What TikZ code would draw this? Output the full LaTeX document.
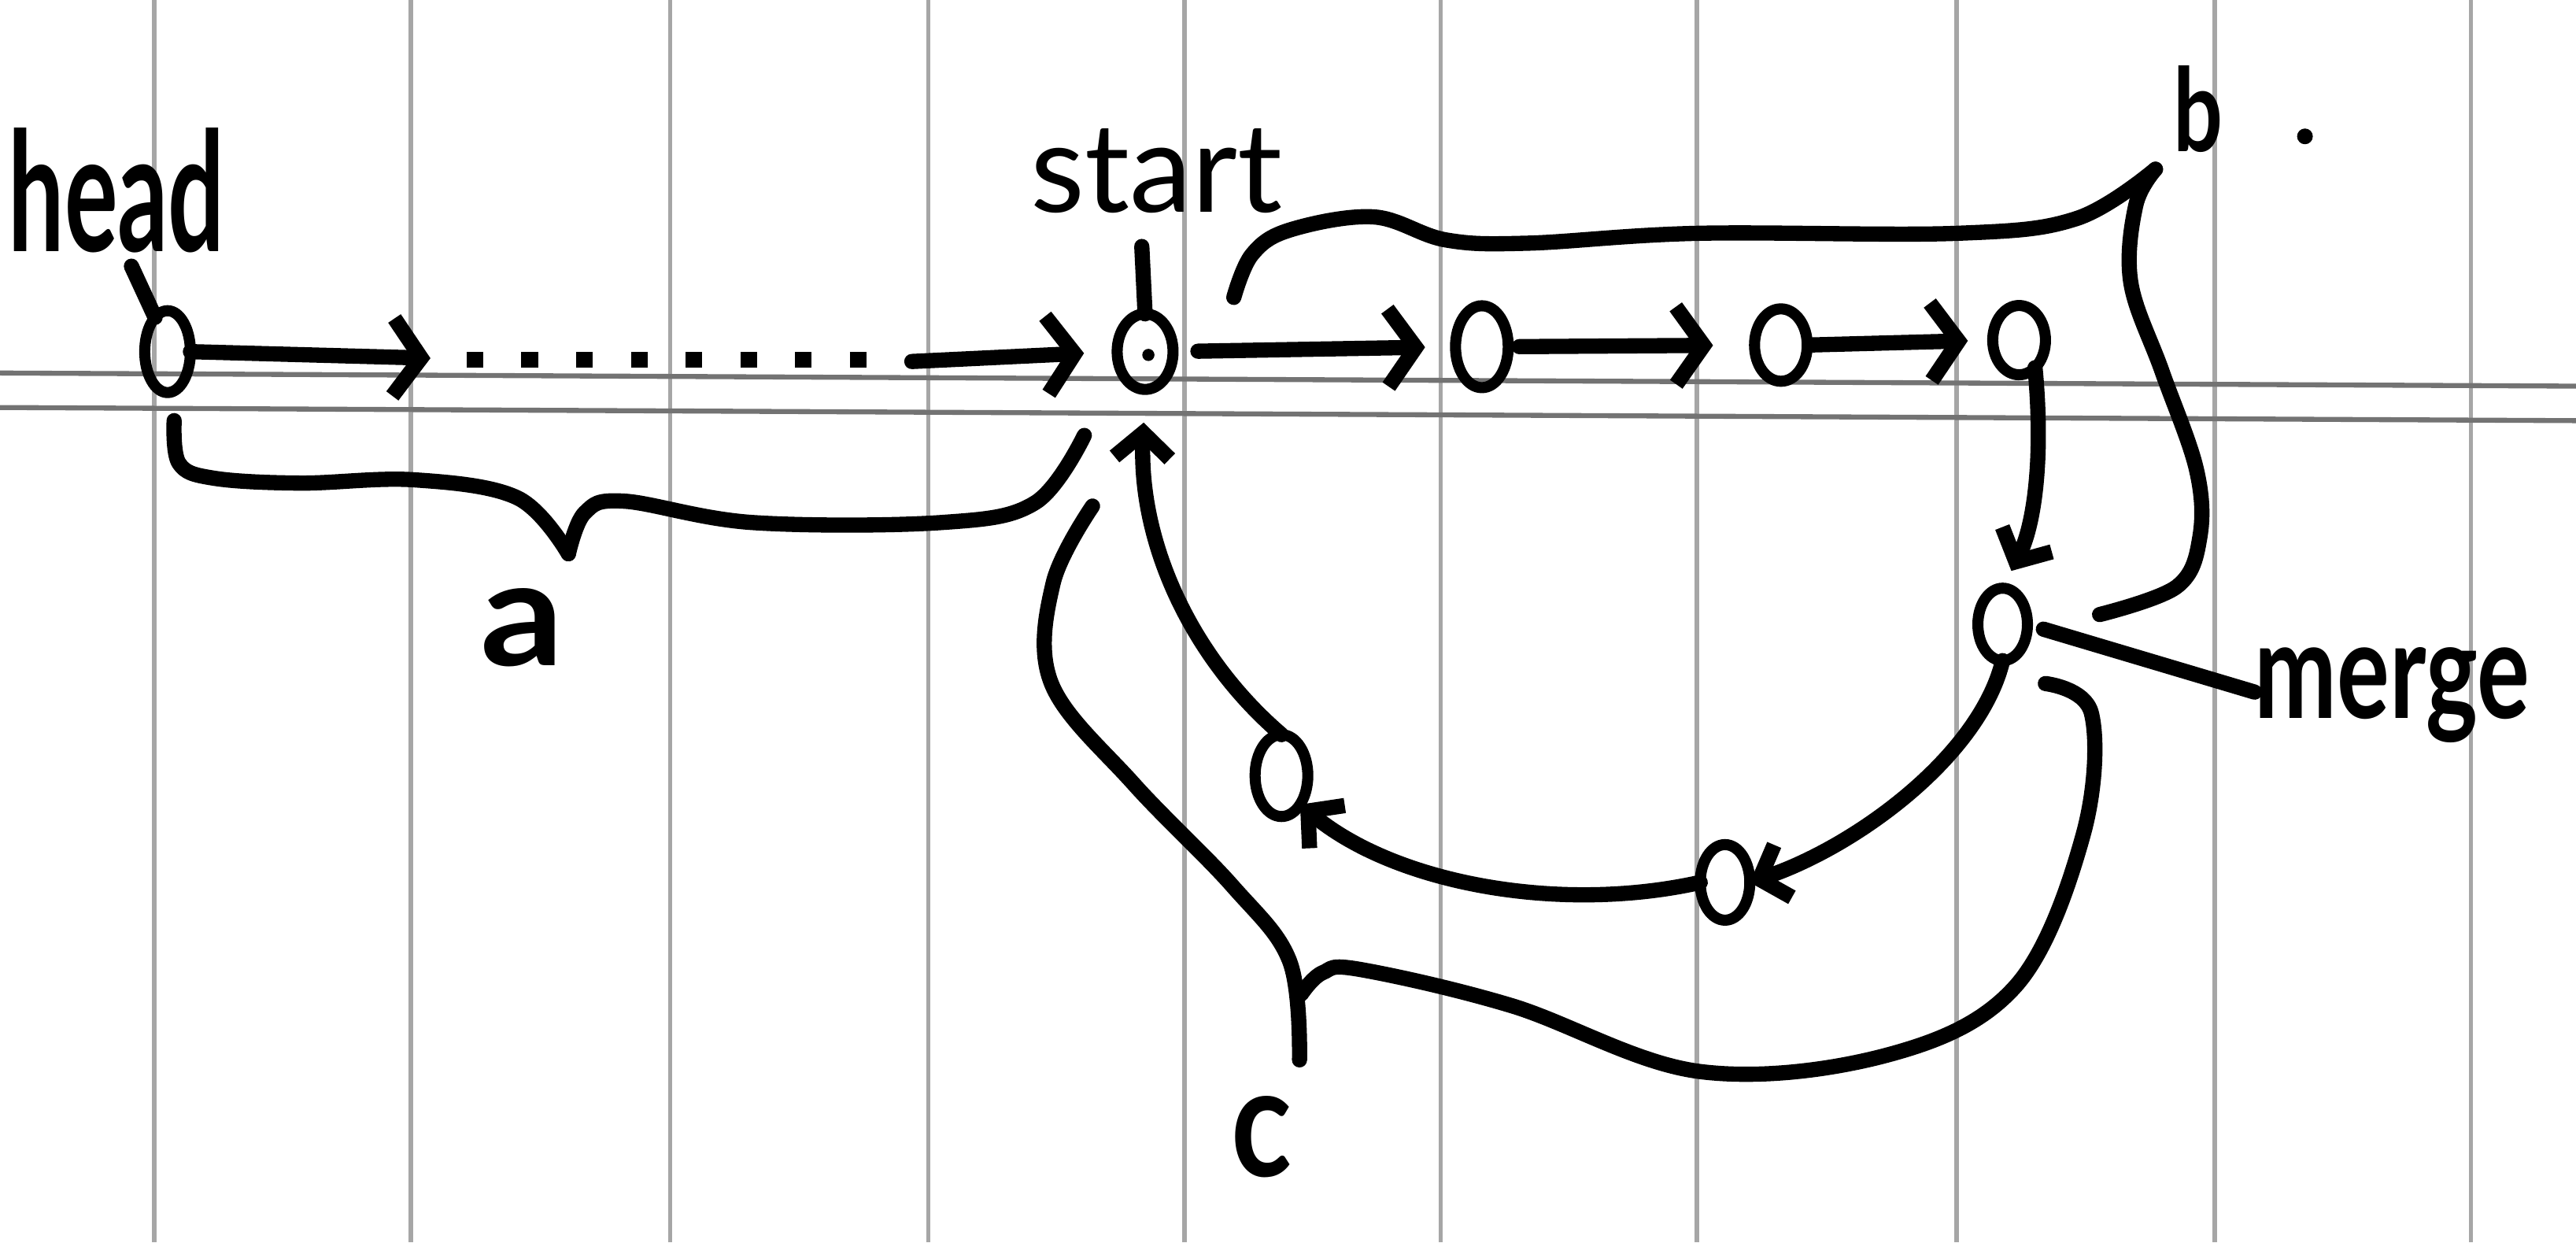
\documentclass[tikz,border=0pt]{standalone}
\usepackage{fontspec}
\setmainfont{Lato}
\usepackage{graphicx}
\usetikzlibrary{shapes.geometric,arrows.meta}
\newcommand{\hw}[3]{\resizebox{#1}{#2}{#3}}
\begin{document}
\begin{tikzpicture}[x=0.020874cm,y=-0.020874cm,
  ink/.style={line width=5.5pt,line cap=round,line join=round,draw=black},
  nd/.style={draw=black,ellipse,line width=4pt,inner sep=0pt,outer sep=0pt},
  bigarr/.style={ink,-{Straight Barb[length=10pt,width=28pt]}},
  smallarr/.style={ink,-{Straight Barb[length=9pt,width=20pt]}},
  txt/.style={anchor=base,inner sep=0pt,outer sep=0pt},
  vline/.style={line width=1.6pt,draw=black!35},
  hline/.style={line width=1.8pt,draw=black!55}]
\fill[white] (0,0) rectangle (1568,756);
\useasboundingbox (0,0) rectangle (1568,756);
% lined paper
\foreach \x in {94,250,408,565,721,877,1033,1191,1348,1504}
  \draw[vline] (\x,0) -- (\x,756);
\draw[hline] (0,227) -- (1568,235);
\draw[hline] (0,248) -- (1568,256);
% labels
\node[txt] (headtxt) at (71,153) {\hw{2.75cm}{1.57cm}{\bfseries head}};
\node[txt] (starttxt) at (704,129) {\hw{3.2cm}{1.06cm}{start}};
\node[txt] (mergetxt) at (1456,437) {\hw{3.49cm}{0.9cm}{\bfseries merge}};
\node[txt] (atxt) at (318,405) {\hw{1.06cm}{0.98cm}{\bfseries a}};
\node[txt] (btxt) at (1338,92) {\hw{0.63cm}{1.09cm}{\bfseries b}};
\node[txt] (ctxt) at (768,716) {\hw{0.77cm}{1.02cm}{\bfseries c}};
% list nodes
\node[nd,minimum width=0.58cm,minimum height=1.04cm] (head) at (102,214) {};
\node[nd,minimum width=0.71cm,minimum height=0.96cm] (start) at (697,214) {};
\node[nd,minimum width=0.67cm,minimum height=1.04cm] (n2) at (902,211) {};
\node[nd,minimum width=0.67cm,minimum height=0.92cm] (n3) at (1084,210) {};
\node[nd,minimum width=0.67cm,minimum height=0.88cm] (n4) at (1229,207) {};
\node[nd,minimum width=0.63cm,minimum height=0.92cm] (merge) at (1219,380) {};
\node[nd,minimum width=0.63cm,minimum height=0.96cm] (n6) at (1050,537) {};
\node[nd,minimum width=0.67cm,minimum height=1.04cm] (n7) at (780,472) {};
\fill (699,216) circle (2.2pt);
\fill (1403,83) circle (0.1cm);
% pointer ticks
\coordinate (ht) at (80,162);
\coordinate (st) at (695,150);
\draw[ink] (ht) -- (head.110);
\draw[ink] (st) -- (start.north);
\draw[ink,shorten <=6pt] (merge.east) -- ([yshift=0.33cm]mergetxt.base west);
% top chain
\coordinate (ga) at (262,218);
\coordinate (gb) at (555,220);
\draw[bigarr] (head.east) -- (ga);
\draw[ink,line width=5.5pt,line cap=butt,dash pattern=on 6pt off 13.8pt] (284,219) -- (530,219);
\draw[bigarr,shorten >=12pt] (gb) -- (start.west);
\draw[bigarr,shorten <=9pt,shorten >=11pt] (start.east) -- (n2.west);
\draw[bigarr,shorten <=4pt,shorten >=15pt] (n2.east) -- (n3.west);
\draw[bigarr,shorten <=2pt,shorten >=9pt] (n3.east) -- (n4.west);
% cycle
\draw[smallarr,shorten >=7pt] (n4.300) .. controls (1244,280) and (1238,320) .. (merge.north);
\draw[smallarr] (merge.south) .. controls (1205,460) and (1130,515) .. (n6.east);
\draw[smallarr] (n6.west) .. controls (950,556) and (850,538) .. (n7.south east);
\draw[smallarr,shorten >=12pt] (n7.north) .. controls (725,400) and (693,330) .. (start.south);
% brace a
\draw[ink] plot[smooth,tension=0.6] coordinates {(106,256) (109,282) (130,291) (183,294) (252,292) (315,303) (346,337)};
\draw[ink] plot[smooth,tension=0.6] coordinates {(346,337) (356,312) (380,305) (458,318) (573,318) (630,306) (660,265)};
% brace b
\draw[ink] plot[smooth,tension=0.6] coordinates {(751,181) (762,155) (785,140) (836,132) (880,146) (930,148) (1033,142) (1191,142) (1264,133) (1312,103)};
\draw[ink] plot[smooth,tension=0.6] coordinates {(1312,103) (1300,125) (1297,172) (1316,226) (1337,286) (1339,327) (1325,357) (1278,374)};
% brace c
\draw[ink] plot[smooth,tension=0.6] coordinates {(665,308) (641,355) (640,416) (690,477) (750,539) (785,585) (791,645)};
\draw[ink] plot[smooth,tension=0.6] coordinates {(792,605) (805,592) (828,590) (920,612) (1034,652) (1149,642) (1227,600) (1268,508) (1273,434) (1245,416)};
\end{tikzpicture}
\end{document}
